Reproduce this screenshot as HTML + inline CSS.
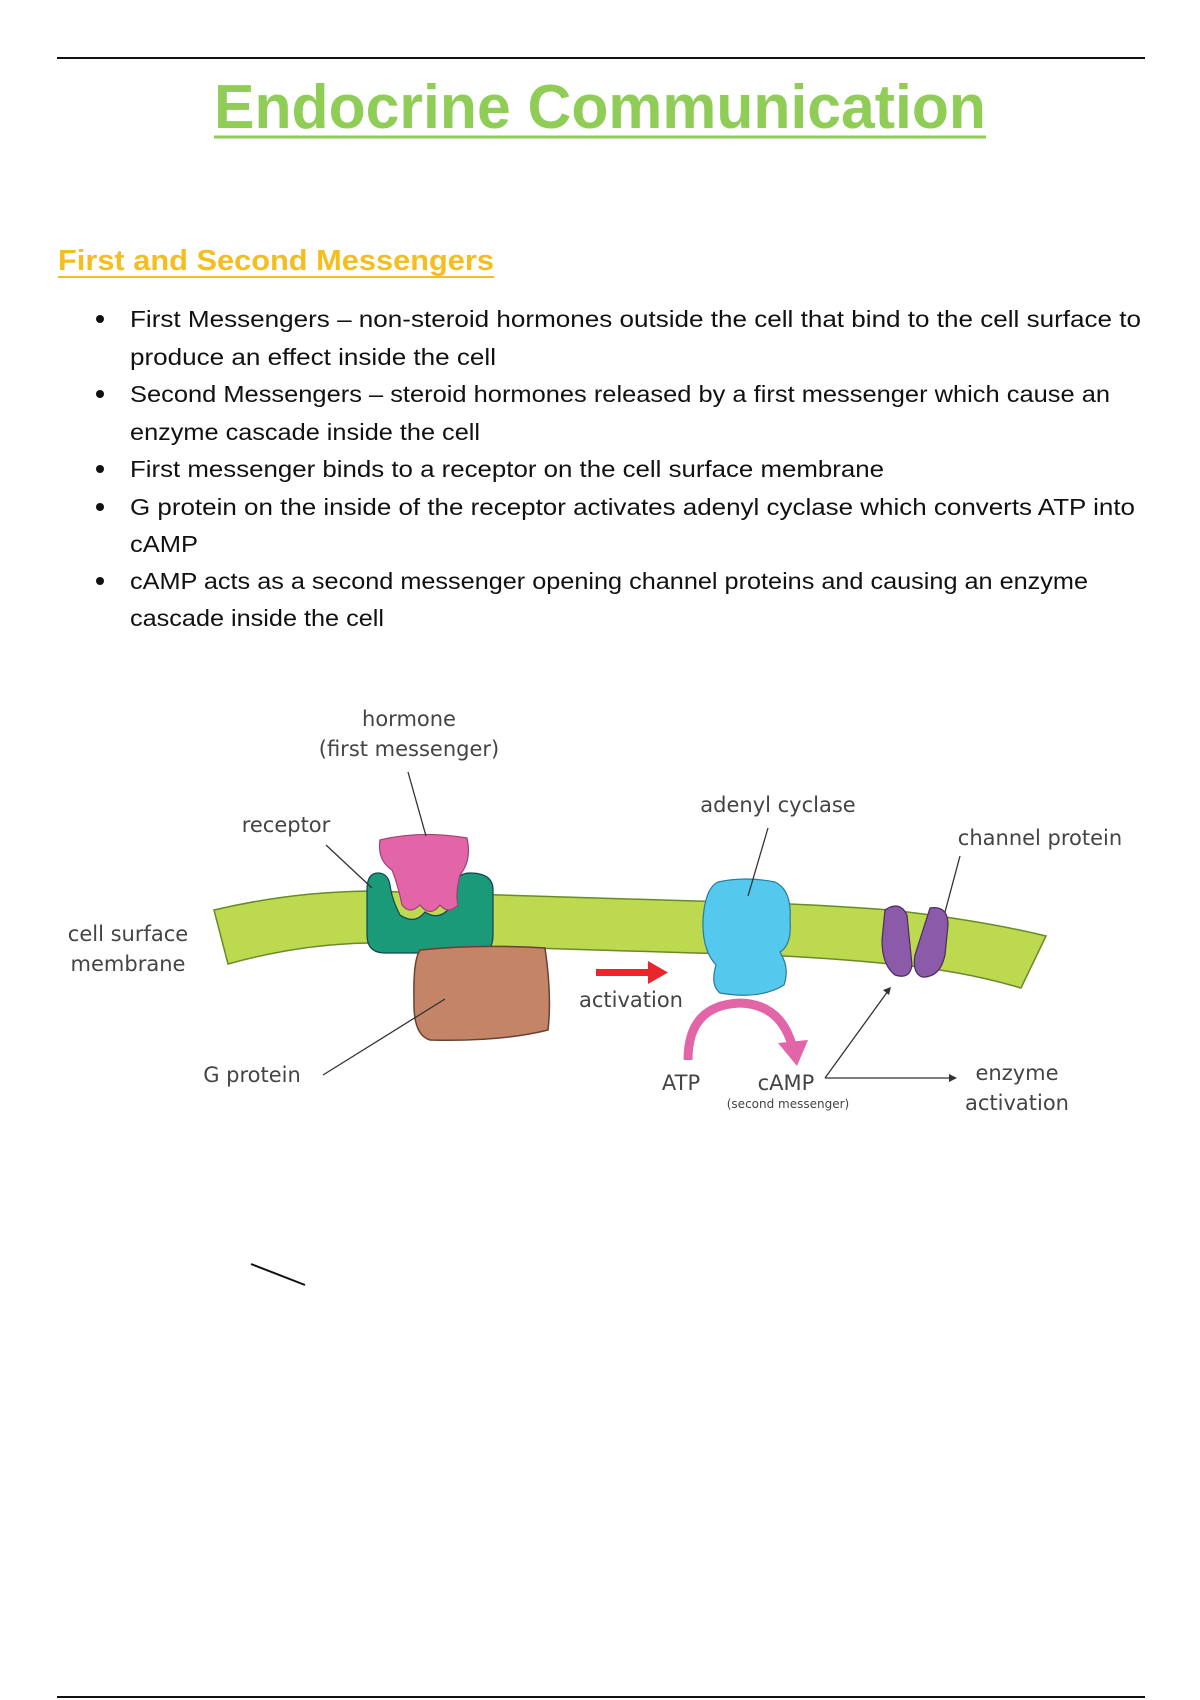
<!DOCTYPE html>
<html><head><meta charset="utf-8"><style>
html,body{margin:0;padding:0;background:#fff;}
svg{display:block;}
</style></head><body>
<svg width="1200" height="1700" viewBox="0 0 1200 1700" xmlns="http://www.w3.org/2000/svg">
<line x1="57" y1="58" x2="1145" y2="58" stroke="#111" stroke-width="2"/>
<text x="600" y="128" text-anchor="middle" font-family="Liberation Sans, sans-serif" font-weight="bold" font-size="62" fill="#8fcd57" textLength="772" lengthAdjust="spacingAndGlyphs">Endocrine Communication</text>
<line x1="214" y1="137" x2="986" y2="137" stroke="#8fcd57" stroke-width="3"/>
<text x="58" y="270" font-family="Liberation Sans, sans-serif" font-weight="bold" font-size="29" fill="#f5bd1f" textLength="436" lengthAdjust="spacingAndGlyphs">First and Second Messengers</text>
<line x1="58" y1="277" x2="494" y2="277" stroke="#f5bd1f" stroke-width="2"/>
<g font-family="Liberation Sans, sans-serif" font-size="23" fill="#111">
<circle cx="100" cy="319" r="4"/><circle cx="100" cy="394" r="4"/><circle cx="100" cy="469" r="4"/><circle cx="100" cy="507" r="4"/><circle cx="100" cy="581" r="4"/>
<text x="130" y="327" textLength="1011" lengthAdjust="spacingAndGlyphs">First Messengers – non-steroid hormones outside the cell that bind to the cell surface to</text>
<text x="130" y="365" textLength="366" lengthAdjust="spacingAndGlyphs">produce an effect inside the cell</text>
<text x="130" y="402" textLength="980" lengthAdjust="spacingAndGlyphs">Second Messengers – steroid hormones released by a first messenger which cause an</text>
<text x="130" y="440" textLength="350" lengthAdjust="spacingAndGlyphs">enzyme cascade inside the cell</text>
<text x="130" y="477" textLength="754" lengthAdjust="spacingAndGlyphs">First messenger binds to a receptor on the cell surface membrane</text>
<text x="130" y="515" textLength="1005" lengthAdjust="spacingAndGlyphs">G protein on the inside of the receptor activates adenyl cyclase which converts ATP into</text>
<text x="130" y="552" textLength="68" lengthAdjust="spacingAndGlyphs">cAMP</text>
<text x="130" y="589" textLength="958" lengthAdjust="spacingAndGlyphs">cAMP acts as a second messenger opening channel proteins and causing an enzyme</text>
<text x="130" y="626" textLength="254" lengthAdjust="spacingAndGlyphs">cascade inside the cell</text>
</g>
<path d="M214,910 Q290,892 369,891 L695,901 Q800,903 890,910 Q980,920 1046,936 L1021,988 Q960,970 890,964 Q800,955 695,953 L369,943 Q300,944 228,964 Z" fill="#bcd94f" stroke="#6a8a2a" stroke-width="1.5"/>
<path d="M378,873 Q367,873 367,890 L367,935 Q367,953 385,953 L478,953 Q493,953 493,935 L493,890 Q493,873 470,873 Q455,873 455,890 L452,905 Q440,922 425,912 Q415,925 400,915 Q392,900 390,885 Q388,873 378,873 Z" fill="#1b9a7a" stroke="#145" stroke-width="1.2"/>
<path d="M380,840 Q420,830 467,838 Q472,860 460,875 Q455,895 458,905 Q448,915 440,905 Q430,918 420,905 Q410,915 402,905 Q398,885 392,870 Q377,860 380,840 Z" fill="#e265a8" stroke="#a04070" stroke-width="1.2"/>
<path d="M420,950 Q480,944 545,948 Q552,995 548,1030 Q500,1042 430,1040 Q413,1035 414,1000 Q413,960 420,950 Z" fill="#c48468" stroke="#6a4030" stroke-width="1.5"/>
<path d="M718,882 Q745,876 775,882 Q792,890 790,920 Q792,945 780,952 Q790,968 784,985 Q760,1000 720,993 Q710,985 716,965 Q702,950 703,920 Q705,888 718,882 Z" fill="#55c8ee" stroke="#2a7a9a" stroke-width="1.2"/>
<path d="M885,910 Q900,900 907,915 L912,965 Q910,980 895,975 Q882,965 882,940 Z" fill="#8b5aa8" stroke="#4a2a60" stroke-width="1.2"/>
<path d="M930,908 Q948,905 948,925 L945,955 Q940,978 922,977 Q912,973 915,955 Z" fill="#8b5aa8" stroke="#4a2a60" stroke-width="1.2"/>
<g stroke="#333" stroke-width="1.3" fill="none">
<line x1="408" y1="772" x2="426" y2="836"/>
<line x1="326" y1="845" x2="372" y2="888"/>
<line x1="323" y1="1075" x2="445" y2="999"/>
<line x1="768" y1="828" x2="748" y2="896"/>
<line x1="960" y1="856" x2="945" y2="912"/>
<line x1="825" y1="1078" x2="950" y2="1078"/>
<line x1="825" y1="1078" x2="888" y2="991"/>
</g>
<path d="M957,1078 l-8,-4 l0,8 z" fill="#333"/>
<path d="M891,987 l-8,3 l6,5 z" fill="#333"/>
<rect x="596" y="969" width="55" height="7" fill="#e8262b"/>
<path d="M648,961 L668,972.5 L648,984 Z" fill="#e8262b"/>
<path d="M688,1060 Q688,1005 740,1003 Q780,1004 792,1045" fill="none" stroke="#e265a8" stroke-width="9"/>
<path d="M778,1043 L808,1040 L797,1066 Z" fill="#e265a8"/>
<g font-family="DejaVu Sans, sans-serif" fill="#444" font-size="21" text-anchor="middle">
<text x="409" y="726">hormone</text>
<text x="409" y="756">(first messenger)</text>
<text x="286" y="832">receptor</text>
<text x="778" y="812">adenyl cyclase</text>
<text x="1040" y="845">channel protein</text>
<text x="128" y="941">cell surface</text>
<text x="128" y="971">membrane</text>
<text x="631" y="1007">activation</text>
<text x="252" y="1082">G protein</text>
<text x="681" y="1090">ATP</text>
<text x="786" y="1090">cAMP</text>
<text x="1017" y="1080">enzyme</text>
<text x="1017" y="1110">activation</text>
<text x="788" y="1108" font-size="12">(second messenger)</text>
</g>
<line x1="251" y1="1264" x2="305" y2="1285" stroke="#111" stroke-width="2"/>
<line x1="57" y1="1697" x2="1145" y2="1697" stroke="#111" stroke-width="2"/>
</svg>
</body></html>
